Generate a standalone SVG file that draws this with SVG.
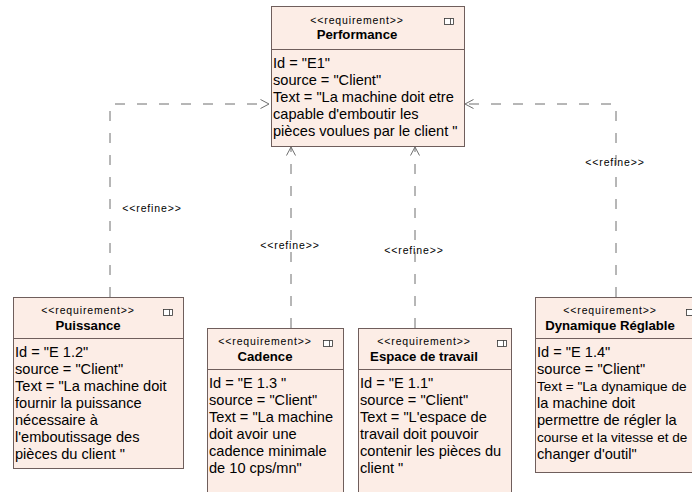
<svg xmlns="http://www.w3.org/2000/svg" width="692" height="492" viewBox="0 0 692 492">
<defs>
<style>
.box{fill:#fcede6;stroke:#6f5e5c;stroke-width:1}
.div{stroke:#6f5e5c;stroke-width:1}
.st{font-family:"Liberation Sans",Arial,sans-serif;font-size:10.5px;letter-spacing:0.85px;fill:#000;text-anchor:middle}
.ti{font-family:"Liberation Sans",Arial,sans-serif;font-size:13.2px;font-weight:bold;fill:#000;text-anchor:middle}
.bd{font-family:"Liberation Sans",Arial,sans-serif;font-size:14.6px;fill:#000}
.nar{font-size:13.6px}
.ic{fill:#fff;stroke:#333;stroke-width:0.8}
.con{fill:none;stroke:#6e6e6e;stroke-width:1;stroke-dasharray:10 12}
.lb{font-family:"Liberation Sans",Arial,sans-serif;font-size:10.5px;letter-spacing:0.85px;fill:#000;text-anchor:middle}
</style>
<marker id="arr" markerUnits="userSpaceOnUse" markerWidth="12" markerHeight="12" refX="9" refY="5" orient="auto">
<path d="M0.5,0.5 L9,5 L0.5,9.5" fill="none" stroke="#6e6e6e" stroke-width="1"/>
</marker>
</defs>
<rect width="692" height="492" fill="#fff"/>

<g id="connectors">
<path class="con" d="M110,297 V104 H269" marker-end="url(#arr)"/>
<path class="con" d="M291,328 V147" marker-end="url(#arr)"/>
<path class="con" d="M415,328 V147" marker-end="url(#arr)"/>
<path class="con" d="M616,297 V104 H465" marker-end="url(#arr)"/>
<text class="lb" x="152" y="212">&lt;&lt;refine&gt;&gt;</text>
<text class="lb" x="290" y="249">&lt;&lt;refine&gt;&gt;</text>
<text class="lb" x="414" y="254">&lt;&lt;refine&gt;&gt;</text>
<text class="lb" x="615" y="166">&lt;&lt;refine&gt;&gt;</text>
</g>

<g id="performance">
<rect class="box" x="271.5" y="6.5" width="193" height="140"/>
<line class="div" x1="271.5" y1="49.5" x2="464.5" y2="49.5"/>
<rect class="ic" x="444.5" y="18.5" width="9" height="6"/>
<line x1="450.5" y1="18.5" x2="450.5" y2="24.5" stroke="#333" stroke-width="0.8"/>
<text class="st" x="357" y="24">&lt;&lt;requirement&gt;&gt;</text>
<text class="ti" x="357" y="39">Performance</text>
<text class="bd" x="273" y="68">Id = "E1"</text>
<text class="bd" x="273" y="85">source = "Client"</text>
<text class="bd" x="273" y="102">Text = "La machine doit etre</text>
<text class="bd" x="273" y="119">capable d'emboutir les</text>
<text class="bd" x="273" y="136">pièces voulues par le client "</text>
</g>

<g id="puissance">
<rect class="box" x="13.5" y="297.5" width="170" height="171"/>
<line class="div" x1="13.5" y1="338.5" x2="183.5" y2="338.5"/>
<rect class="ic" x="163.5" y="309.5" width="9" height="6"/>
<line x1="169.5" y1="309.5" x2="169.5" y2="315.5" stroke="#333" stroke-width="0.8"/>
<text class="st" x="88" y="314">&lt;&lt;requirement&gt;&gt;</text>
<text class="ti" x="88" y="330">Puissance</text>
<text class="bd" x="15" y="357">Id = "E 1.2"</text>
<text class="bd" x="15" y="374">source = "Client"</text>
<text class="bd" x="15" y="391">Text = "La machine doit</text>
<text class="bd" x="15" y="408">fournir la puissance</text>
<text class="bd" x="15" y="425">nécessaire à</text>
<text class="bd" x="15" y="442">l'emboutissage des</text>
<text class="bd" x="15" y="459">pièces du client "</text>
</g>

<g id="cadence">
<rect class="box" x="207.5" y="328.5" width="136" height="170"/>
<line class="div" x1="207.5" y1="369.5" x2="343.5" y2="369.5"/>
<rect class="ic" x="323.5" y="340.5" width="9" height="6"/>
<line x1="329.5" y1="340.5" x2="329.5" y2="346.5" stroke="#333" stroke-width="0.8"/>
<text class="st" x="265" y="345">&lt;&lt;requirement&gt;&gt;</text>
<text class="ti" x="265" y="361">Cadence</text>
<text class="bd" x="209" y="388">Id = "E 1.3 "</text>
<text class="bd" x="209" y="405">source = "Client"</text>
<text class="bd" x="209" y="422">Text = "La machine</text>
<text class="bd" x="209" y="439">doit avoir une</text>
<text class="bd" x="209" y="456">cadence minimale</text>
<text class="bd" x="209" y="473">de 10 cps/mn"</text>
</g>

<g id="espace">
<rect class="box" x="358.5" y="328.5" width="153" height="170"/>
<line class="div" x1="358.5" y1="369.5" x2="511.5" y2="369.5"/>
<rect class="ic" x="497.5" y="340.5" width="9" height="6"/>
<line x1="503.5" y1="340.5" x2="503.5" y2="346.5" stroke="#333" stroke-width="0.8"/>
<text class="st" x="424" y="345">&lt;&lt;requirement&gt;&gt;</text>
<text class="ti" x="424" y="361">Espace de travail</text>
<text class="bd" x="360" y="388">Id = "E 1.1"</text>
<text class="bd" x="360" y="405">source = "Client"</text>
<text class="bd" x="360" y="422">Text = "L'espace de</text>
<text class="bd" x="360" y="439">travail doit pouvoir</text>
<text class="bd" x="360" y="456">contenir les pièces du</text>
<text class="bd" x="360" y="473">client "</text>
</g>

<g id="dynamique">
<rect class="box" x="535.5" y="297.5" width="180" height="175"/>
<line class="div" x1="535.5" y1="338.5" x2="715.5" y2="338.5"/>
<rect class="ic" x="686.5" y="309.5" width="9" height="6"/>
<text class="st" x="610" y="314">&lt;&lt;requirement&gt;&gt;</text>
<text class="ti" x="610" y="330">Dynamique Réglable</text>
<text class="bd" x="537" y="357">Id = "E 1.4"</text>
<text class="bd" x="537" y="374">source = "Client"</text>
<text class="bd nar" x="537" y="391">Text = "La dynamique de</text>
<text class="bd" x="537" y="408">la machine doit</text>
<text class="bd" x="537" y="425">permettre de régler la</text>
<text class="bd nar" x="537" y="442">course et la vitesse et de</text>
<text class="bd" x="537" y="459">changer d'outil"</text>
</g>
</svg>
